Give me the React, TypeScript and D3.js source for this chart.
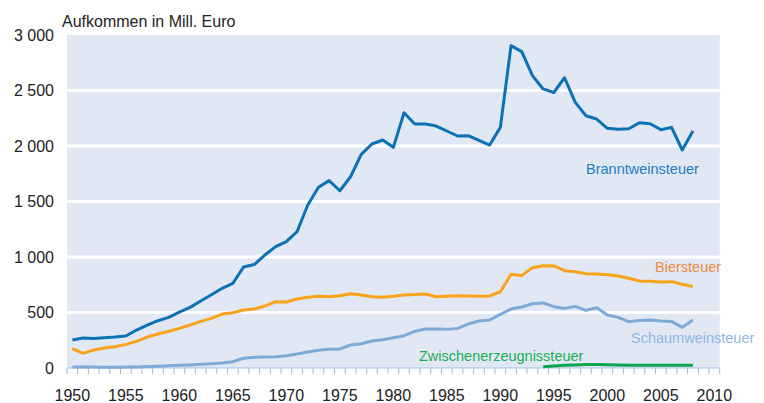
import React from "react";
import * as d3 from "d3";

const years = d3.range(1950, 2009);

const branntwein = [
  252, 270, 266, 273, 279, 288, 342, 387, 426, 456,
  504, 546, 604, 660, 718, 763, 910, 932, 1018, 1093,
  1138, 1228, 1468, 1628, 1688, 1597, 1723, 1925, 2018, 2054,
  1988, 2300, 2198, 2198, 2180, 2135, 2090, 2093, 2051, 2009,
  2168, 2904, 2850, 2634, 2514, 2482, 2615, 2393, 2273, 2243,
  2159, 2150, 2156, 2210, 2201, 2147, 2168, 1964, 2135,
];

const bier = [
  174, 132, 162, 180, 192, 213, 240, 279, 306, 330,
  357, 387, 420, 447, 486, 498, 522, 531, 558, 597,
  594, 621, 637, 646, 642, 651, 669, 658, 642, 637,
  646, 658, 662, 667, 642, 646, 651, 649, 646, 649,
  687, 844, 832, 904, 922, 919, 877, 868, 850, 847,
  841, 829, 808, 784, 781, 775, 778, 754, 733,
];

const schaumwein = [
  8, 9, 8, 7, 7, 8, 10, 13, 16, 20,
  24, 28, 33, 38, 45, 57, 88, 96, 99, 102,
  111, 126, 144, 159, 168, 171, 207, 219, 243, 255,
  273, 291, 330, 351, 351, 348, 357, 396, 423, 432,
  483, 531, 550, 579, 586, 552, 537, 555, 519, 543,
  477, 456, 417, 429, 432, 423, 420, 366, 432,
];

const zwischenYears = d3.range(1994, 2009);
const zwischen = [12, 18, 24, 28, 31, 31, 29, 27, 25, 24, 24, 24, 24, 24, 25];

const yTicks = [0, 500, 1000, 1500, 2000, 2500, 3000];
const xLabels = [1950, 1955, 1960, 1965, 1970, 1975, 1980, 1985, 1990, 1995, 2000, 2005, 2010];

const W = 764;
const H = 403;

export default function App() {
  const x = d3.scaleLinear().domain([1949.5, 2010.5]).range([67, 719.7]);
  const y = d3.scaleLinear().domain([0, 3000]).range([368, 35]);
  const fmt = (v: number) => (v >= 1000 ? `${Math.floor(v / 1000)} ${String(v % 1000).padStart(3, "0")}` : String(v));

  const line = d3
    .line<[number, number]>()
    .x((d) => x(d[0]))
    .y((d) => y(d[1]));

  const series = [
    { data: schaumwein, yrs: years, color: "#7eaad8" },
    { data: zwischen, yrs: zwischenYears, color: "#0aa64f" },
    { data: bier, yrs: years, color: "#f9a31b" },
    { data: branntwein, yrs: years, color: "#0b72b5" },
  ];

  const tickPositions = d3.range(1949.5, 2011, 1);
  const font = "'Liberation Sans', Arial, sans-serif";

  return (
    <svg
      width={W}
      height={H}
      style={{ position: "absolute", left: 0, top: 0, background: "#fff" }}
      fontFamily={font}
    >
      <rect x={x(1949.5)} y={y(3000)} width={x(2010.5) - x(1949.5)} height={y(0) - y(3000)} fill="#e1e8f4" />
      {yTicks.slice(1, -1).map((t) => (
        <line key={t} x1={x(1949.5)} x2={x(2010.5)} y1={y(t)} y2={y(t)} stroke="#fff" strokeWidth={3} />
      ))}
      <line x1={x(1949.5)} x2={x(2010.5)} y1={y(0)} y2={y(0)} stroke="#a6c2e3" strokeWidth={1.2} />
      {tickPositions.map((t) => (
        <line key={t} x1={x(t)} x2={x(t)} y1={y(0)} y2={y(0) + 6} stroke="#9bbbe0" strokeWidth={1} />
      ))}
      {series.map((s, i) => (
        <path
          key={i}
          d={line(s.yrs.map((yr, j) => [yr, s.data[j]] as [number, number])) || ""}
          fill="none"
          stroke={s.color}
          strokeWidth={3}
          strokeLinejoin="round"
        />
      ))}
      {yTicks.map((t) => (
        <text key={t} x={54} y={y(t)} dy="0.35em" textAnchor="end" fontSize={16} fill="#222">
          {fmt(t)}
        </text>
      ))}
      {xLabels.map((t) => (
        <text key={t} x={x(t)} y={395} dy="0.35em" textAnchor="middle" fontSize={16} fill="#222">
          {t}
        </text>
      ))}
      <text x={62} y={26.5} fontSize={16} fill="#222">Aufkommen in Mill. Euro</text>
      <text x={586} y={174} fontSize={14.5} fill="#1a7cc1">Branntweinsteuer</text>
      <text x={655} y={271.5} fontSize={14.5} fill="#ef8b3c">Biersteuer</text>
      <text x={631} y={342.5} fontSize={14.5} fill="#8fb6e0">Schaumweinsteuer</text>
      <text x={419} y={360.5} fontSize={14.5} fill="#20ad58">Zwischenerzeugnissteuer</text>
    </svg>
  );
}
